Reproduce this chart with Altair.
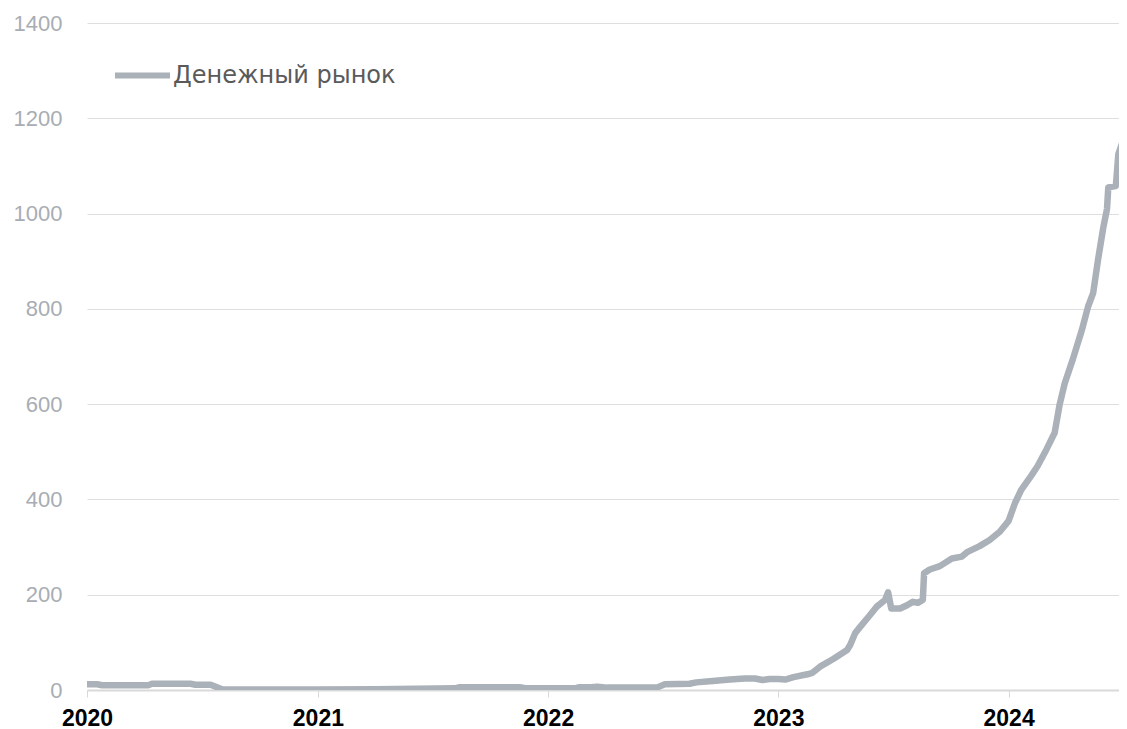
import altair as alt
import pandas as pd

dates = [
    "2020-01-01", "2020-01-17", "2020-01-25", "2020-04-07", "2020-04-13", "2020-06-13",
    "2020-06-21", "2020-07-15", "2020-08-03", "2020-12-31", "2021-04-01", "2021-07-09",
    "2021-08-06", "2021-08-14", "2021-11-17", "2021-11-28", "2022-02-12", "2022-02-20",
    "2022-03-10", "2022-03-20", "2022-04-05", "2022-06-24", "2022-07-05", "2022-08-13",
    "2022-08-24", "2022-09-19", "2022-10-16", "2022-11-09", "2022-11-25", "2022-12-07",
    "2022-12-18", "2023-01-01", "2023-01-12", "2023-01-25", "2023-02-16", "2023-02-24",
    "2023-03-08", "2023-03-29", "2023-04-20", "2023-04-25", "2023-05-03", "2023-05-11",
    "2023-05-26", "2023-06-06", "2023-06-19", "2023-06-24", "2023-06-29", "2023-07-13",
    "2023-07-24", "2023-08-02", "2023-08-10", "2023-08-18", "2023-08-20", "2023-08-29",
    "2023-09-14", "2023-10-03", "2023-10-19", "2023-10-28", "2023-11-16", "2023-12-02",
    "2023-12-18", "2024-01-01", "2024-01-11", "2024-01-21", "2024-02-06", "2024-02-16",
    "2024-03-01", "2024-03-14", "2024-03-22", "2024-03-30", "2024-04-12", "2024-04-26",
    "2024-05-06", "2024-05-14", "2024-05-22", "2024-05-30", "2024-06-05", "2024-06-07",
    "2024-06-19", "2024-06-23", "2024-06-29", "2024-07-07",
]
values = [
    12, 12, 10, 10, 13, 13,
    11, 11, 1, 1, 1.5, 3,
    3.5, 6, 6, 3.5, 3.5, 6,
    6, 7, 5, 6, 12, 13,
    16, 19, 22, 24, 24, 21,
    23, 23, 22, 27, 33, 36,
    49, 65, 84, 95, 120, 133,
    157, 175, 189, 205, 171, 171,
    178, 185, 183, 189, 245, 253,
    260, 276, 280, 290, 302, 315,
    332, 355, 392, 420, 450, 470,
    505, 540, 600, 644, 695, 755,
    805, 833, 905, 970, 1010, 1055,
    1058, 1125, 1148, 1165,
]
series_name = "Денежный рынок"
y_ticks = [0, 200, 400, 600, 800, 1000, 1200, 1400]

df = pd.DataFrame({
    "date": pd.to_datetime(dates),
    "value": values,
    "series": [series_name] * len(dates),
})

line_color = "#abb1b8"

chart = (
    alt.Chart(df)
    .mark_line(strokeWidth=6.5, strokeJoin="round", strokeCap="butt", clip=True)
    .encode(
        x=alt.X(
            "date:T",
            title=None,
            scale=alt.Scale(domain=[alt.DateTime(year=2020, month=1, date=1),
                                    alt.DateTime(year=2024, month=6, date=24)]),
            axis=alt.Axis(
                format="%Y",
                tickCount={"interval": "year", "step": 1},
                grid=False,
                labelFlush=False,
                labelFont="Liberation Sans",
                labelFontSize=23,
                labelFontWeight="bold",
                labelColor="#000000",
                labelPadding=10,
                tickSize=7,
                tickColor="#d9d9d9",
                domainColor="#d9d9d9",
                domainWidth=2,
            ),
        ),
        y=alt.Y(
            "value:Q",
            title=None,
            scale=alt.Scale(domain=[0, 1400]),
            axis=alt.Axis(
                values=y_ticks,
                format="d",
                domain=False,
                ticks=False,
                gridColor="#dedede",
                gridWidth=1,
                labelFont="Liberation Sans",
                labelFontSize=22,
                labelColor="#a8adb4",
                labelPadding=25,
            ),
        ),
        color=alt.Color(
            "series:N",
            scale=alt.Scale(domain=[series_name], range=[line_color]),
            legend=alt.Legend(
                title=None,
                orient="none",
                legendX=25,
                legendY=22,
                symbolType="stroke",
                symbolSize=3025,
                symbolStrokeWidth=6,
                labelFont="DejaVu Sans",
                labelFontSize=24,
                labelColor="#5a5a5a",
                labelOffset=0,
                labelLimit=600,
                padding=0,
            ),
        ),
    )
    .properties(
        width=1032,
        height=667,
        autosize=alt.AutoSizeParams(type="none"),
        padding={"left": 79, "top": 15, "right": 0, "bottom": 44},
    )
    .configure_view(stroke=None)
)

chart.save("out.html", embed_options={"renderer": "svg", "actions": False})
